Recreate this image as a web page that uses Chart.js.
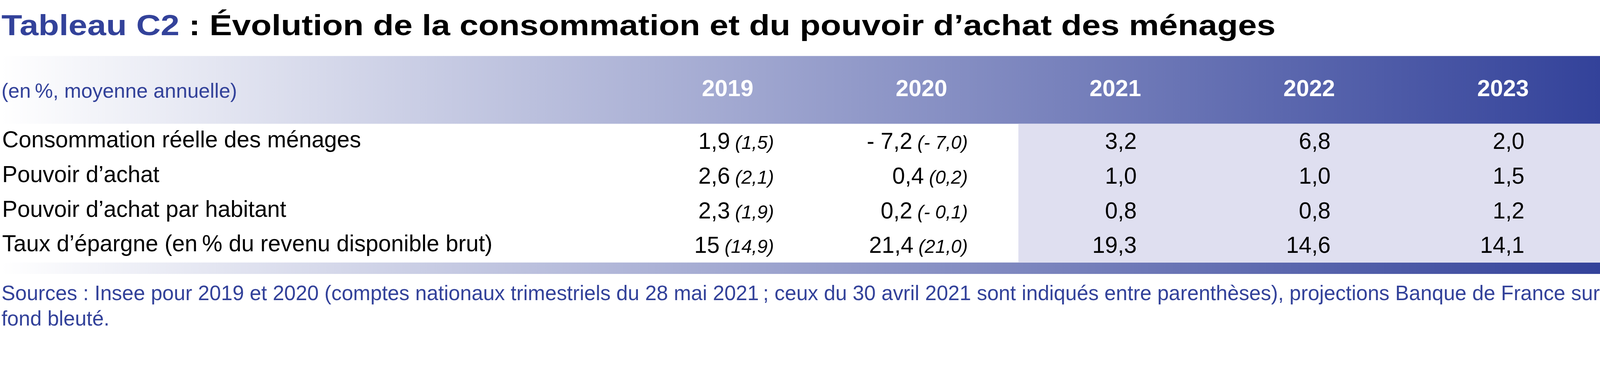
<!DOCTYPE html>
<html lang="fr">
<head>
<meta charset="utf-8">
<title>Tableau C2</title>
<script src="https://cdn.jsdelivr.net/npm/chart.js@4.4.1/dist/chart.umd.min.js"></script>
<style>
  html, body { margin: 0; padding: 0; background: #fff; overflow: hidden; }
  #wrap { width: 4488px; height: 957px; transform-origin: 0 0; }
  #tableau { display: block; }
</style>
</head>
<body>
<div id="wrap"><canvas id="tableau" width="4488" height="957"></canvas></div>
<script>
// columns and rows of the table
var years = ["2019", "2020", "2021", "2022", "2023"];
var rowLabels = [
  "Consommation réelle des ménages",
  "Pouvoir d’achat",
  "Pouvoir d’achat par habitant",
  "Taux d’épargne (en\u202F% du revenu disponible brut)"
];

// values per year (strings, as printed)
var val2019 = ["1,9", "2,6", "2,3", "15"];
var val2020 = ["- 7,2", "0,4", "0,2", "21,4"];
var val2021 = ["3,2", "1,0", "0,8", "19,3"];
var val2022 = ["6,8", "1,0", "0,8", "14,6"];
var val2023 = ["2,0", "1,5", "1,2", "14,1"];

// previous estimates (30 avril 2021), shown in brackets
var prev2019 = ["1,5", "2,1", "1,9", "14,9"];
var prev2020 = ["- 7,0", "0,2", "- 0,1", "21,0"];

var firstProjection = 2; // 2021 onwards = projections Banque de France

var columns = [
  {values: val2019, prev: prev2019},
  {values: val2020, prev: prev2020},
  {values: val2021},
  {values: val2022},
  {values: val2023}
];

var blue = "#33429a";
var fontFam = "'Liberation Sans', Arial, Helvetica, sans-serif";
Chart.defaults.font.family = fontFam;

// fit the 4488x957 drawing to whatever the viewport is
var fit = Math.min(window.innerWidth / 4488, window.innerHeight / 957);
document.getElementById("wrap").style.transform = "scale(" + fit + ")";

var tablePlugin = {
  id: "tableau",
  beforeDraw: function (chart) {
    var ctx = chart.ctx, x = chart.scales.x, area = chart.chartArea;
    ctx.save();
    ctx.fillStyle = "#fff";
    ctx.fillRect(0, 0, chart.width, chart.height);

    var grad = ctx.createLinearGradient(0, 0, chart.width, 0);
    grad.addColorStop(0, "#ffffff");
    grad.addColorStop(1, blue);
    ctx.fillStyle = grad;
    // header band behind the year axis, and the closing bar
    ctx.fillRect(0, x.top, chart.width, x.bottom - x.top);
    ctx.fillRect(0, area.bottom, chart.width, 32);

    // bluish background for projections
    var colW = x.getPixelForValue(1) - x.getPixelForValue(0);
    var left = x.getPixelForValue(firstProjection) - colW / 2;
    ctx.fillStyle = "#dfdff0";
    ctx.fillRect(left, area.top, chart.width - left, area.bottom - area.top);
    ctx.restore();
  },
  afterDraw: function (chart) {
    var ctx = chart.ctx, x = chart.scales.x, y = chart.scales.y;
    ctx.save();

    // title, the original face is wider than Arial bold so stretch it a bit
    ctx.textBaseline = "alphabetic";
    ctx.textAlign = "left";
    ctx.font = "bold 82px " + fontFam;
    var part1 = "Tableau C2";
    var part2 = " : Évolution de la consommation et du pouvoir d’achat des ménages";
    var w1 = ctx.measureText(part1).width;
    var w2 = ctx.measureText(part2).width;
    var sx = 3574 / (w1 + w2);
    ctx.save();
    ctx.translate(4, 99);
    ctx.scale(sx, 1);
    ctx.fillStyle = blue;
    ctx.fillText(part1, 0, 0);
    ctx.fillStyle = "#000";
    ctx.fillText(part2, w1, 0);
    ctx.restore();

    // unit label in header band
    ctx.font = "57px " + fontFam;
    ctx.fillStyle = blue;
    ctx.fillText("(en\u202F%, moyenne annuelle)", 4, 274);

    // cells
    ctx.fillStyle = "#000";
    columns.forEach(function (col, ci) {
      var cx = x.getPixelForValue(ci);
      col.values.forEach(function (v, ri) {
        var base = y.getPixelForValue(ri) + 22;
        var right = cx + 60;
        ctx.textAlign = "right";
        if (col.prev) {
          right = cx + 130;
          var t = "(" + col.prev[ri] + ")";
          ctx.font = "italic 53px " + fontFam;
          ctx.fillText(t, right, base);
          right -= ctx.measureText(t).width + 14;
        }
        ctx.font = "64px " + fontFam;
        ctx.fillText(v, right, base);
      });
    });

    // sources
    ctx.textAlign = "left";
    ctx.fillStyle = blue;
    ctx.font = "58px " + fontFam;
    ctx.fillText("Sources : Insee pour 2019 et 2020 (comptes nationaux trimestriels du 28 mai 2021\u202F; ceux du 30 avril 2021 sont indiqués entre parenthèses), projections Banque de France sur", 4, 842);
    ctx.fillText("fond bleuté.", 4, 913);
    ctx.restore();
  }
};

new Chart("tableau", {
  type: "bar",
  data: {
    labels: years,
    datasets: []
  },
  options: {
    responsive: false,
    devicePixelRatio: (window.devicePixelRatio || 1) * fit,
    animation: false,
    layout: {padding: {top: 157, bottom: 221, left: 6, right: 0}},
    plugins: {
      legend: {display: false},
      title: {display: false},
      tooltip: {enabled: false}
    },
    scales: {
      x: {
        type: "category",
        position: "top",
        offset: true,
        grid: {display: false, drawTicks: false},
        border: {display: false},
        ticks: {
          color: "#fff",
          padding: 56,
          maxRotation: 0,
          autoSkip: false,
          font: {size: 65, weight: "bold"}
        },
        afterFit: function (s) { s.height = 190; }
      },
      y: {
        type: "category",
        labels: rowLabels,
        offset: true,
        grid: {display: false, drawTicks: false},
        border: {display: false},
        ticks: {
          color: "#000",
          crossAlign: "far",
          autoSkip: false,
          font: {size: 64}
        },
        afterFit: function (s) { s.width = 1763; }
      }
    }
  },
  plugins: [tablePlugin]
});
</script>
</body>
</html>
